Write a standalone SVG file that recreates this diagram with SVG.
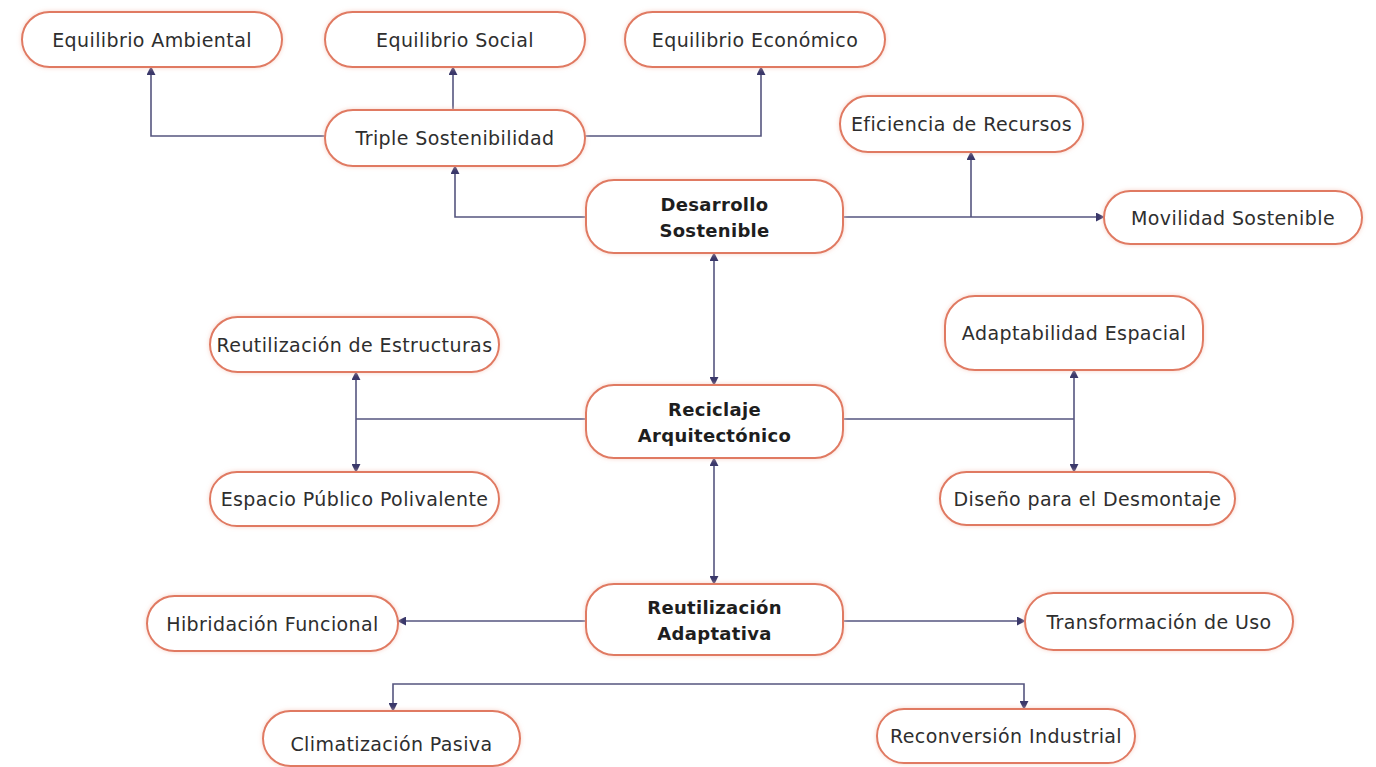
<svg xmlns="http://www.w3.org/2000/svg" width="1376" height="767" viewBox="0 0 1376 767">
  <style>
    .box { fill: #ffffff; stroke: #e07a62; stroke-width: 2; filter: url(#glow); }
    .lbl { font-family: "DejaVu Sans", "Liberation Sans", sans-serif; font-size: 19px; letter-spacing: 0.4px; fill: #2e2e2e; text-anchor: middle; dominant-baseline: central; }
    .main { font-family: "DejaVu Sans", "Liberation Sans", sans-serif; font-size: 18px; letter-spacing: 0.3px; font-weight: bold; fill: #1e1e1e; text-anchor: middle; dominant-baseline: central; }
    .conn { fill: none; stroke: #55557f; stroke-width: 1.6; }
    .one { marker-end: url(#arrow); }
    .two { marker-start: url(#arrow); marker-end: url(#arrow); }
  </style>
  <defs>
    <marker id="arrow" viewBox="0 0 10 10" refX="9" refY="5" markerWidth="9" markerHeight="9" markerUnits="userSpaceOnUse" orient="auto-start-reverse">
      <path d="M0,0 L10,5 L0,10 z" fill="#3a386a"/>
    </marker>
    <filter id="glow" x="-10%" y="-20%" width="120%" height="140%">
      <feDropShadow dx="0" dy="0" stdDeviation="2" flood-color="#f6c9bc" flood-opacity="0.8"/>
    </filter>
  </defs>
  <rect width="1376" height="767" fill="#ffffff"/>

  <g id="connectors">
    <path class="conn one" d="M325,136 H151 V67"/>
    <path class="conn one" d="M453,110 V67"/>
    <path class="conn one" d="M585,136 H761 V67"/>
    <path class="conn one" d="M586,217 H455 V166"/>
    <path class="conn one" d="M843,217 H1104"/>
    <path class="conn one" d="M971,217 V152"/>
    <path class="conn two" d="M714,253 V385"/>
    <path class="conn" d="M586,419 H356"/>
    <path class="conn two" d="M356,372 V472"/>
    <path class="conn" d="M843,419 H1074"/>
    <path class="conn two" d="M1074,370 V472"/>
    <path class="conn two" d="M714,458 V584"/>
    <path class="conn one" d="M586,621 H398"/>
    <path class="conn one" d="M843,621 H1025"/>
    <path class="conn two" d="M393,711 V684 H1024 V709"/>
  </g>

  <g id="equilibrio-ambiental">
    <rect class="box" x="22" y="12" width="260" height="55" rx="27.5"/>
    <text class="lbl" x="152" y="39.5">Equilibrio Ambiental</text>
  </g>
  <g id="equilibrio-social">
    <rect class="box" x="325" y="12" width="260" height="55" rx="27.5"/>
    <text class="lbl" x="455" y="39.5">Equilibrio Social</text>
  </g>
  <g id="equilibrio-economico">
    <rect class="box" x="625" y="12" width="260" height="55" rx="27.5"/>
    <text class="lbl" x="755" y="39.5">Equilibrio Económico</text>
  </g>
  <g id="triple-sostenibilidad">
    <rect class="box" x="325" y="110" width="260" height="56" rx="28"/>
    <text class="lbl" x="455" y="138">Triple Sostenibilidad</text>
  </g>
  <g id="eficiencia-recursos">
    <rect class="box" x="840" y="96" width="243" height="56" rx="28"/>
    <text class="lbl" x="961.5" y="124">Eficiencia de Recursos</text>
  </g>
  <g id="desarrollo-sostenible">
    <rect class="box" x="586" y="180" width="257" height="73" rx="28"/>
    <text class="main" x="714.5" y="204">Desarrollo</text>
    <text class="main" x="714.5" y="230">Sostenible</text>
  </g>
  <g id="movilidad-sostenible">
    <rect class="box" x="1104" y="191" width="258" height="53" rx="26.5"/>
    <text class="lbl" x="1233" y="217.5">Movilidad Sostenible</text>
  </g>
  <g id="reutilizacion-estructuras">
    <rect class="box" x="210" y="317" width="289" height="55" rx="27.5"/>
    <text class="lbl" x="354.5" y="344.5">Reutilización de Estructuras</text>
  </g>
  <g id="adaptabilidad-espacial">
    <rect class="box" x="945" y="296" width="258" height="74" rx="30"/>
    <text class="lbl" x="1074" y="333">Adaptabilidad Espacial</text>
  </g>
  <g id="reciclaje-arquitectonico">
    <rect class="box" x="586" y="385" width="257" height="73" rx="28"/>
    <text class="main" x="714.5" y="409">Reciclaje</text>
    <text class="main" x="714.5" y="435">Arquitectónico</text>
  </g>
  <g id="espacio-publico">
    <rect class="box" x="210" y="472" width="289" height="54" rx="27"/>
    <text class="lbl" x="354.5" y="499">Espacio Público Polivalente</text>
  </g>
  <g id="diseno-desmontaje">
    <rect class="box" x="940" y="472" width="295" height="53" rx="26.5"/>
    <text class="lbl" x="1087.5" y="498.5">Diseño para el Desmontaje</text>
  </g>
  <g id="hibridacion-funcional">
    <rect class="box" x="147" y="596" width="251" height="55" rx="27.5"/>
    <text class="lbl" x="272.5" y="623.5">Hibridación Funcional</text>
  </g>
  <g id="reutilizacion-adaptativa">
    <rect class="box" x="586" y="584" width="257" height="71" rx="28"/>
    <text class="main" x="714.5" y="607">Reutilización</text>
    <text class="main" x="714.5" y="633">Adaptativa</text>
  </g>
  <g id="transformacion-uso">
    <rect class="box" x="1025" y="593" width="268" height="57" rx="28.5"/>
    <text class="lbl" x="1159" y="621.5">Transformación de Uso</text>
  </g>
  <g id="climatizacion-pasiva">
    <rect class="box" x="263" y="711" width="257" height="55" rx="27.5"/>
    <text class="lbl" x="391.5" y="744">Climatización Pasiva</text>
  </g>
  <g id="reconversion-industrial">
    <rect class="box" x="877" y="709" width="258" height="54" rx="27"/>
    <text class="lbl" x="1006" y="736">Reconversión Industrial</text>
  </g>
</svg>
